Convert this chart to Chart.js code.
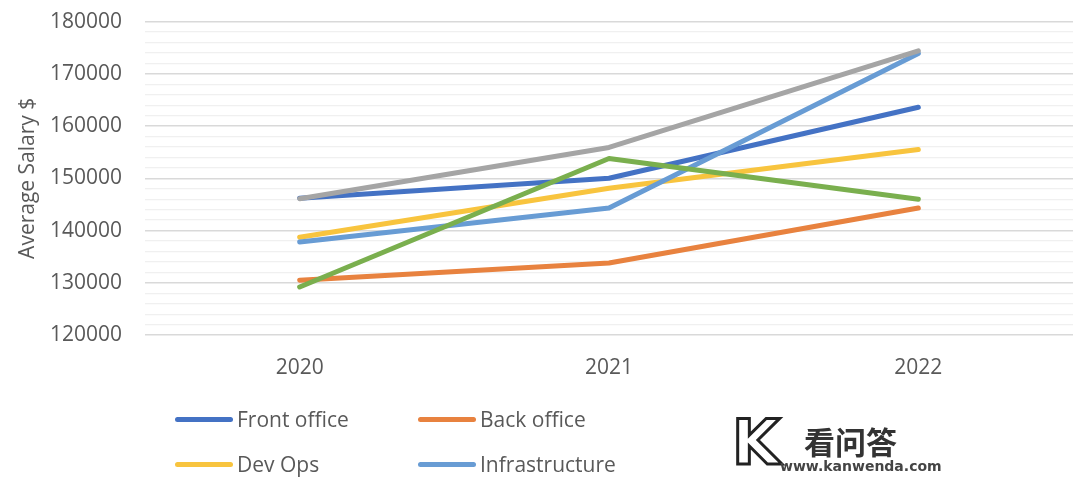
<!DOCTYPE html>
<html>
<head>
<meta charset="utf-8">
<script src="https://cdn.jsdelivr.net/npm/chart.js@4"></script>
<style>
  body { margin: 0; background: #fff; }
  #wrap { position: relative; width: 1080px; height: 482px; overflow: hidden; font-family: "Open Sans", sans-serif; }
  #myChart { position: absolute; left: 0; top: -14px; }
  #legend .item { position: absolute; display: flex; align-items: center; font-size: 21px; color: #595959; }
  #legend .swatch { width: 58px; height: 5px; border-radius: 3px; margin-right: 4px; }
  #mark { position: absolute; left: 732px; top: 412px; color: #333; }
</style>
</head>
<body>
<div id="wrap">
  <canvas id="myChart" width="1080" height="496"></canvas>
  <div id="legend"></div>
  <div id="mark">
    <div style="position:absolute;left:0;top:-6px;font:bold 62px 'DejaVu Sans';color:#fff;-webkit-text-stroke:3px #222;">K</div>
    <div style="position:absolute;left:72px;top:6px;font:bold 31px 'Noto Sans CJK SC';white-space:nowrap;">看问答</div>
    <div style="position:absolute;left:48px;top:46px;font:bold 14px 'DejaVu Sans';white-space:nowrap;color:#444;">www.kanwenda.com</div>
  </div>
</div>
<script>
var years = ["2020", "2021", "2022"];
var frontOffice = [146200, 150000, 163600];
var backOffice = [130500, 133800, 144300];
var devOps = [138700, 148100, 155500];
var infrastructure = [137800, 144300, 173900];
var series5 = [129200, 153800, 146000];
var series6 = [146100, 155900, 174400];

var names = ["Front office", "Back office", "Dev Ops", "Infrastructure", "Series 5", "Series 6"];
var colors = ["#4472C4", "#E8823F", "#F8C43E", "#689CD4", "#7AAF4E", "#A5A5A5"];
var values = [frontOffice, backOffice, devOps, infrastructure, series5, series6];

var datasets = [];
// draw order: last series on top
for (var i = 0; i < values.length; i++) {
  datasets.push({
    label: names[i],
    data: values[i],
    borderColor: colors[i],
    backgroundColor: colors[i],
    borderWidth: 5,
    borderCapStyle: "round",
    borderJoinStyle: "round",
    pointRadius: 0,
    tension: 0,
    fill: false,
    order: values.length - i
  });
}

const config = {
  type: "line",
  data: { labels: years, datasets: datasets },
  options: {
    responsive: false,
    animation: false,
    layout: { padding: { top: 7, right: 7, bottom: 87, left: 0 } },
    plugins: { legend: { display: false }, tooltip: { enabled: false } },
    scales: {
      x: {
        offset: true,
        grid: { display: false, drawTicks: false },
        border: { display: false },
        ticks: { color: "#595959", font: { family: "Open Sans", size: 21 }, padding: 20 },
        afterFit: function (s) { s.height = 60; }
      },
      y: {
        min: 120000,
        max: 180000,
        border: { display: false },
        grid: {
          drawTicks: false,
          color: function (c) { return c.tick.value % 10000 === 0 ? "#d9d9d9" : "#f0f0f0"; },
          lineWidth: function (c) { return c.tick.value % 10000 === 0 ? 1.5 : 1.2; }
        },
        ticks: {
          stepSize: 2000,
          autoSkip: false,
          padding: 23,
          color: "#595959",
          font: { family: "Open Sans", size: 21 },
          callback: function (v) { return v % 10000 === 0 ? String(v) : ""; }
        },
        title: {
          display: true,
          text: "Average Salary $",
          color: "#595959",
          font: { family: "Open Sans", size: 21 },
          padding: { top: 15, bottom: 0 }
        },
        afterFit: function (s) { s.width = 145; }
      }
    }
  }
};

const chart = new Chart(document.getElementById("myChart"), config);

// html legend, only the first four entries are visible in the picture
var legendPos = [[175, 420], [418, 420], [175, 465], [418, 465]];
var legend = document.getElementById("legend");
for (var j = 0; j < legendPos.length; j++) {
  var ds = chart.data.datasets[j];
  var item = document.createElement("div");
  item.className = "item";
  item.style.left = legendPos[j][0] + "px";
  item.style.top = (legendPos[j][1] - 15) + "px";
  item.innerHTML = '<span class="swatch" style="background:' + ds.borderColor + '"></span>' + ds.label;
  legend.appendChild(item);
}
</script>
</body>
</html>
